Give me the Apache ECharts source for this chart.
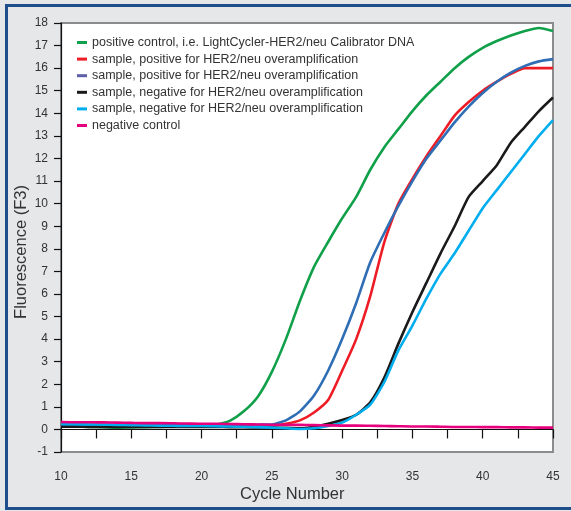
<!DOCTYPE html>
<html>
<head>
<meta charset="utf-8">
<script src="https://cdn.jsdelivr.net/npm/echarts@6/dist/echarts.min.js"></script>
<style>
html,body{margin:0;padding:0;background:#e6e7e9;}
#frame{position:absolute;left:0;top:0;width:571px;height:511px;background:#e6e7e9;}
#bl{position:absolute;left:5px;top:4px;width:3px;height:506px;background:#1f4e8c;}
#bt{position:absolute;left:5px;top:4px;width:566px;height:3px;background:#1f4e8c;}
#bb{position:absolute;left:5px;top:507px;width:566px;height:3px;background:#1f4e8c;}
#chart{position:absolute;left:0;top:0;width:571px;height:511px;}
</style>
</head>
<body>
<div id="frame"><div id="chart"></div><div id="bl"></div><div id="bt"></div><div id="bb"></div></div>
<script>
const cycles = [10,11,12,13,14,15,16,17,18,19,20,21,22,23,24,25,26,27,28,29,30,31,32,33,34,35,36,37,38,39,40,41,42,43,44,45];
const seriesNames = [
  'positive control, i.e. LightCycler-HER2/neu Calibrator DNA',
  'sample, positive for HER2/neu overamplification',
  'sample, positive for HER2/neu overamplification',
  'sample, negative for HER2/neu overamplification',
  'sample, negative for HER2/neu overamplification',
  'negative control'
];
const positiveControl = [0.15,0.13,0.11,0.10,0.08,0.09,0.10,0.11,0.13,0.15,0.17,0.22,0.38,0.80,1.45,2.55,4.0,5.7,7.2,8.3,9.35,10.3,11.5,12.5,13.3,14.1,14.8,15.4,16.0,16.5,16.9,17.2,17.45,17.65,17.78,17.65];
const samplePos1 = [0.15,0.15,0.15,0.15,0.15,0.15,0.15,0.16,0.16,0.16,0.17,0.17,0.17,0.17,0.18,0.18,0.25,0.40,0.75,1.3,2.6,4.0,5.9,8.3,10.0,11.1,12.1,13.0,13.9,14.5,15.0,15.4,15.75,16.0,16.0,16.0];
const samplePos2 = [0.20,0.20,0.20,0.20,0.20,0.20,0.20,0.20,0.20,0.20,0.20,0.20,0.20,0.20,0.21,0.22,0.40,0.80,1.5,2.6,4.0,5.6,7.4,8.7,9.9,11.0,12.0,12.8,13.6,14.3,14.9,15.4,15.8,16.1,16.3,16.4];
const sampleNeg1 = [0.12,0.12,0.11,0.11,0.11,0.11,0.11,0.11,0.11,0.11,0.11,0.11,0.10,0.10,0.09,0.08,0.07,0.05,0.12,0.25,0.42,0.65,1.2,2.3,3.8,5.2,6.5,7.8,9.0,10.3,11.0,11.7,12.7,13.4,14.1,14.7];
const sampleNeg2 = [0.24,0.23,0.22,0.21,0.20,0.19,0.18,0.17,0.16,0.15,0.15,0.14,0.13,0.12,0.10,0.08,0.05,0.02,0.05,0.15,0.30,0.65,1.1,2.1,3.5,4.6,5.8,6.9,7.8,8.8,9.8,10.6,11.4,12.2,13.0,13.7];
const negativeControl = [0.33,0.32,0.32,0.31,0.30,0.29,0.28,0.28,0.27,0.26,0.25,0.25,0.24,0.23,0.22,0.21,0.21,0.20,0.19,0.18,0.17,0.17,0.16,0.15,0.14,0.13,0.13,0.12,0.11,0.11,0.10,0.10,0.09,0.09,0.08,0.08];
const colors = ['#11a04a','#ee1c25','#2f6db5','#1a1a1a','#00aeef','#e6007e'];
const legendColors = ['#11a04a','#ee1c25','#5d5fa8','#1a1a1a','#00aeef','#e6007e'];
const xTickLabels = [10,15,20,25,30,35,40,45];
const yTickLabels = [-1,0,1,2,3,4,5,6,7,8,9,10,11,12,13,14,15,16,17,18];
const allData = [positiveControl, samplePos1, samplePos2, sampleNeg1, sampleNeg2, negativeControl];

const font = "'Liberation Sans', Arial, sans-serif";
const chart = echarts.init(document.getElementById('chart'), null, {renderer:'canvas'});
const series = allData.map((arr, i) => ({
  name: 'S' + i,
  type: 'line',
  data: arr.map((v, j) => [cycles[j], v]),
  showSymbol: false,
  smooth: 0.2,
  lineStyle: {color: colors[i], width: 2.6},
  itemStyle: {color: legendColors[i]},
  z: 2 + i,
  animation: false
}));
chart.setOption({
  animation: false,
  backgroundColor: 'transparent',
  grid: {left: 61, right: 18, top: 23, bottom: 59, show: true, backgroundColor: '#ffffff', borderColor: '#8c8c8c', borderWidth: 2},
  legend: {
    left: 72, top: 31, orient: 'vertical', itemGap: 3.6,
    icon: 'rect', itemWidth: 10, itemHeight: 3,
    data: seriesNames.map((n, i) => ({name: 'S' + i})),
    formatter: function(n){ return seriesNames[+n.slice(1)]; },
    textStyle: {fontFamily: font, fontSize: 12.5, color: '#333', padding: [0,0,0,0]}
  },
  xAxis: {
    type: 'value', min: 10, max: 45, interval: 2.5,
    axisLine: {lineStyle: {color: '#111', width: 1.2}},
    axisTick: {length: 9, lineStyle: {color: '#111', width: 1.2}},
    axisLabel: {
      fontFamily: font, fontSize: 12, color: '#333', margin: 19,
      formatter: function(v){ return xTickLabels.indexOf(v) >= 0 ? String(v) : ''; }
    },
    splitLine: {show: false}
  },
  yAxis: {
    type: 'value', min: -1, max: 18, interval: 1,
    axisLine: {show: true, onZero: false, lineStyle: {color: '#111', width: 1.2}},
    axisTick: {show: true, length: 7, lineStyle: {color: '#111', width: 1.2}},
    axisLabel: {fontFamily: font, fontSize: 12, color: '#333', margin: 13,
      formatter: function(v){ return yTickLabels.indexOf(v) >= 0 ? String(v) : ''; }},
    splitLine: {show: false}
  },
  graphic: [
    {type: 'text', left: 240, top: 486, style: {text: 'Cycle Number', font: "16.5px 'Liberation Sans', Arial, sans-serif", fill: '#333'}},
    {type: 'text', x: 13, y: 252, rotation: Math.PI/2, style: {text: 'Fluorescence (F3)', font: "16.5px 'Liberation Sans', Arial, sans-serif", fill: '#333', align: 'center', verticalAlign: 'top'}}
  ],
  series: series
});
</script>
</body>
</html>
